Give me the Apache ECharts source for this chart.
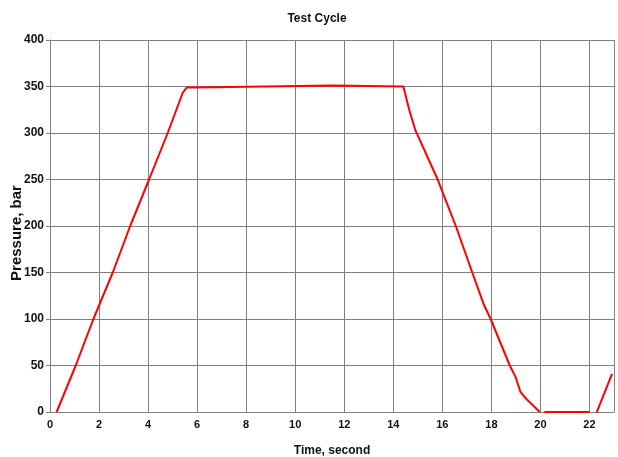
<!DOCTYPE html>
<html>
<head>
<meta charset="utf-8">
<script src="https://cdn.jsdelivr.net/npm/echarts@6/dist/echarts.min.js"></script>
<style>
html,body{margin:0;padding:0;background:#fff;}
#chart{width:618px;height:457px;}
</style>
</head>
<body>
<div id="chart"></div>
<script>
// Time (s) and pressure (bar); null = gap in the trace
var timeSec = [0.27, 1.05, 1.77, 2.56, 3.27, 4.04, 4.8, 5.41, 5.58, 6.0, 6.05, 11.5, 11.55, 14.41, 14.66, 14.9, 15.81, 16.0, 16.55, 17.22, 17.7, 17.97, 18.75, 18.98, 19.18, 19.39, 19.97, 20.06, 20.16, 22.0, 22.15, 22.3, 22.92];
var pressureBar = [0, 50, 100, 150, 200, 250, 300, 343, 349, 349, 351, 351, 350, 350, 324, 303, 250, 237, 200, 150, 115, 100, 50, 38, 22, 15, 0, null, 0, 0, null, 0, 41];
var xTickLabels = [0, 2, 4, 6, 8, 10, 12, 14, 16, 18, 20, 22];
var yTickLabels = [0, 50, 100, 150, 200, 250, 300, 350, 400];

var data = timeSec.map(function (t, i) { return [t, pressureBar[i]]; });
var font = "'Liberation Sans', Arial, sans-serif";
var chart = echarts.init(document.getElementById('chart'), null, {renderer: 'canvas'});
chart.setOption({
  animation: false,
  backgroundColor: '#ffffff',
  title: {
    text: 'Test Cycle',
    left: 312, top: 8, textAlign: 'center',
    textStyle: {fontFamily: font, fontSize: 12, fontWeight: 'bold', color: '#111'}
  },
  grid: {left: 50, right: 4, top: 40, bottom: 45, containLabel: false, outerBoundsMode: 'none'},
  xAxis: {
    type: 'value', min: 0, max: 23, interval: 2,
    name: 'Time, second', nameLocation: 'middle', nameGap: 33,
    nameTextStyle: {fontFamily: font, fontSize: 12, fontWeight: 'bold', color: '#111'},
    axisLine: {show: true, lineStyle: {color: '#808080', width: 1}},
    axisTick: {show: false},
    axisLabel: {
      margin: 7, fontFamily: font, fontSize: 11, fontWeight: 'bold', color: '#111',
      formatter: function (v) { return xTickLabels.indexOf(v) >= 0 ? String(v) : ''; }
    },
    splitLine: {show: true, lineStyle: {color: '#808080', width: 1}}
  },
  yAxis: {
    type: 'value', min: 0, max: 400, interval: 50,
    name: 'Pressure, bar', nameLocation: 'middle', nameGap: 26, nameRotate: 90,
    nameMoveOverlap: false,
    nameTextStyle: {fontFamily: font, fontSize: 15, fontWeight: 'bold', color: '#111', padding: [0, 14, 0, 0]},
    axisLine: {show: true, lineStyle: {color: '#808080', width: 1}},
    axisTick: {show: true, length: 4, lineStyle: {color: '#808080'}},
    axisLabel: {
      margin: 6, fontFamily: font, fontSize: 12, fontWeight: 'bold', color: '#111',
      formatter: function (v) { return yTickLabels.indexOf(v) >= 0 ? String(v) : ''; }
    },
    splitLine: {show: true, lineStyle: {color: '#808080', width: 1}}
  },
  series: [{
    type: 'line',
    data: data,
    showSymbol: false,
    connectNulls: false,
    lineStyle: {color: '#ff0000', width: 2},
    itemStyle: {color: '#ff0000'}
  }]
});
</script>
</body>
</html>
